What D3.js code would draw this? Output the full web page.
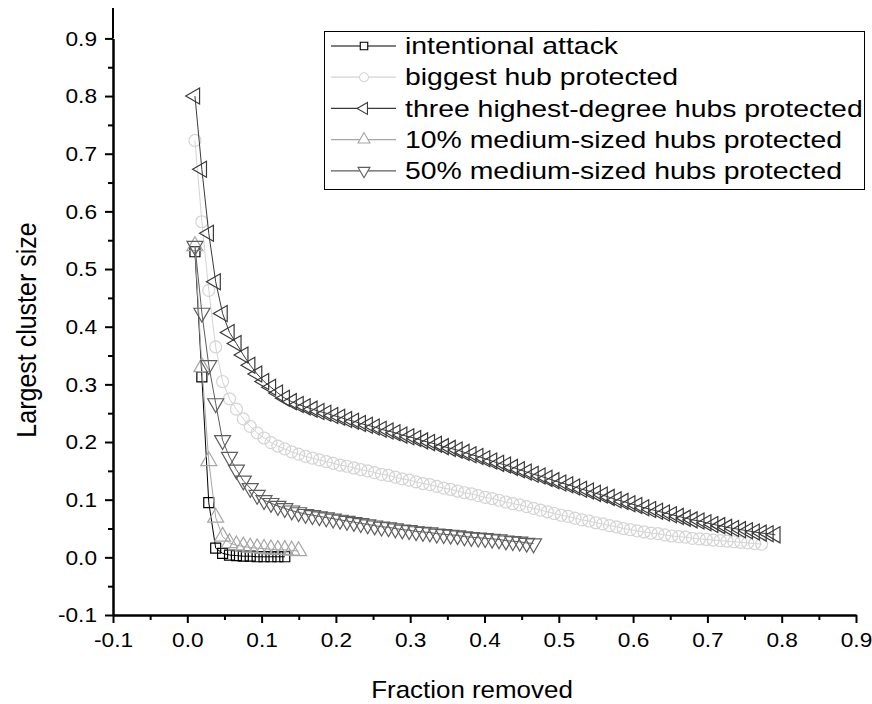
<!DOCTYPE html>
<html><head><meta charset="utf-8">
<script src="https://cdn.jsdelivr.net/npm/d3@7"></script>
<style>
body{margin:0;background:#fff}
text{font-family:"Liberation Sans",Arial,sans-serif;fill:#000}
</style>
</head><body>
<svg id="chart" width="872" height="704"></svg>
<script>
// shared x grid (fraction removed)
const fraction = [0.0103,0.0196,0.0289,0.0382,0.0475,0.0568,0.0661,0.0754,0.0847,0.0940,
0.1033,0.1126,0.1219,0.1312,0.1405,0.1498,0.1591,0.1684,0.1777,0.1870,
0.1963,0.2056,0.2149,0.2242,0.2335,0.2428,0.2521,0.2614,0.2707,0.2800,
0.2893,0.2986,0.3079,0.3172,0.3265,0.3358,0.3451,0.3544,0.3637,0.3730,
0.3823,0.3916,0.4009,0.4102,0.4195,0.4288,0.4381,0.4474,0.4567,0.4660,
0.4753,0.4846,0.4939,0.5032,0.5125,0.5218,0.5311,0.5404,0.5497,0.5590,
0.5683,0.5776,0.5869,0.5962,0.6055,0.6148,0.6241,0.6334,0.6427,0.6520,
0.6613,0.6706,0.6799,0.6892,0.6985,0.7078,0.7171,0.7264,0.7357,0.7450,
0.7543,0.7636,0.7729,0.7822,0.7915];

const intentionalAttack = [0.530,0.313,0.095,0.016,0.007,0.004,0.003,0.002,0.002,0.001,0.001,0.001,0.001,0.001];

const biggestHub = [0.723,0.582,0.463,0.365,0.305,0.275,0.257,0.240,0.227,0.216,
0.207,0.199,0.193,0.188,0.183,0.179,0.175,0.172,0.169,0.166,
0.163,0.160,0.158,0.155,0.152,0.150,0.147,0.144,0.142,0.139,
0.136,0.134,0.131,0.128,0.126,0.123,0.120,0.118,0.115,0.112,
0.110,0.107,0.104,0.102,0.099,0.096,0.093,0.091,0.088,0.085,
0.082,0.079,0.076,0.073,0.071,0.068,0.065,0.063,0.060,0.058,
0.055,0.053,0.050,0.048,0.046,0.044,0.042,0.041,0.039,0.037,
0.036,0.035,0.033,0.032,0.031,0.030,0.029,0.028,0.027,0.026,
0.025,0.024,0.023];

const threeHubs = [0.800,0.673,0.562,0.478,0.423,0.390,0.371,0.351,0.333,0.318,
0.305,0.295,0.285,0.276,0.270,0.265,0.261,0.257,0.253,0.250,
0.246,0.243,0.239,0.236,0.232,0.229,0.226,0.222,0.219,0.216,
0.212,0.209,0.206,0.202,0.199,0.196,0.192,0.189,0.186,0.182,
0.178,0.175,0.171,0.167,0.163,0.160,0.156,0.152,0.148,0.144,
0.141,0.137,0.133,0.129,0.126,0.122,0.118,0.115,0.111,0.108,
0.104,0.100,0.097,0.093,0.090,0.086,0.083,0.080,0.077,0.074,
0.071,0.068,0.065,0.063,0.060,0.057,0.055,0.052,0.050,0.048,
0.046,0.044,0.042,0.041,0.039];

const medium10 = [0.540,0.330,0.167,0.069,0.036,0.025,0.021,0.019,0.017,0.016,0.015,0.014,0.013,0.013,0.012,0.011];

const medium50 = [0.540,0.424,0.333,0.267,0.203,0.174,0.152,0.133,0.120,0.108,
0.099,0.094,0.089,0.085,0.081,0.078,0.075,0.073,0.071,0.069,
0.067,0.065,0.063,0.061,0.059,0.057,0.055,0.053,0.052,0.050,
0.048,0.047,0.045,0.044,0.043,0.041,0.040,0.039,0.038,0.036,
0.035,0.034,0.033,0.032,0.031,0.029,0.028,0.027,0.025,0.024];

const seriesNames = ["intentional attack","biggest hub protected","three highest-degree hubs protected","10% medium-sized hubs protected","50% medium-sized hubs protected"];
const xTicks = [-0.1,0,0.1,0.2,0.3,0.4,0.5,0.6,0.7,0.8,0.9];
const yTicks = [-0.1,0,0.1,0.2,0.3,0.4,0.5,0.6,0.7,0.8,0.9];
const xMinor = [-0.05,0.05,0.15,0.25,0.35,0.45,0.55,0.65,0.75,0.85];
const yMinor = [-0.05,0.05,0.15,0.25,0.35,0.45,0.55,0.65,0.75,0.85];

const seriesData = [intentionalAttack, biggestHub, threeHubs, medium10, medium50];
const seriesStyle = [
  {shape:"square", color:"#000000", line:"#000000"},
  {shape:"circle", color:"#d4d4d4", line:"#d4d4d4"},
  {shape:"left",   color:"#3a3a3a", line:"#3a3a3a"},
  {shape:"up",     color:"#a6a6a6", line:"#a6a6a6"},
  {shape:"down",   color:"#5e5e5e", line:"#5e5e5e"}
];

const svg = d3.select("#chart");
const x = d3.scaleLinear().domain([-0.1,0.9]).range([113,856]);
const y = d3.scaleLinear().domain([-0.1,0.9]).range([615,38.4]);

function shapePath(shape, k){
  k = k || 1;
  const s = 16*k, h = s*Math.sqrt(3)/2;
  if(shape==="square"){ const a=5*k; return `M${-a},${-a}h${2*a}v${2*a}h${-2*a}z`; }
  if(shape==="circle"){ const r=6*k; return `M${-r},0a${r},${r} 0 1,0 ${2*r},0a${r},${r} 0 1,0 ${-2*r},0z`; }
  if(shape==="up")   return `M0,${-2*h/3}L${s/2},${h/3}L${-s/2},${h/3}Z`;
  if(shape==="down") return `M0,${2*h/3}L${s/2},${-h/3}L${-s/2},${-h/3}Z`;
  if(shape==="left") return `M${-2*h/3},0L${h/3},${-s/2}L${h/3},${s/2}Z`;
}

// series
const line = d3.line().x(d=>x(d[0])).y(d=>y(d[1]));
seriesData.forEach((vals,si)=>{
  const pts = vals.map((v,i)=>[fraction[i], v]);
  const st = seriesStyle[si];
  const g = svg.append("g");
  g.append("path").attr("d", line(pts)).attr("fill","none").attr("stroke", st.line).attr("stroke-width",1);
  g.selectAll("path.m").data(pts).enter().append("path").attr("class","m")
    .attr("d", shapePath(st.shape))
    .attr("transform", d=>`translate(${x(d[0])},${y(d[1])})`)
    .attr("fill","none").attr("stroke", st.color).attr("stroke-width",1.2);
});

// axes
const fmt = d => d.toFixed(1);
const TICK_FS = 21, TICK_SX = 1.08;
const xAxis = svg.append("g").attr("transform","translate(0,615)")
  .call(d3.axisBottom(x).tickValues(xTicks).tickFormat(fmt).tickSize(8).tickSizeOuter(0).tickPadding(9));
const xAxisMinor = svg.append("g").attr("transform","translate(0,615)")
  .call(d3.axisBottom(x).tickValues(xMinor).tickFormat("").tickSize(5).tickSizeOuter(0));
const yAxis = svg.append("g").attr("transform","translate(113,0)")
  .call(d3.axisLeft(y).tickValues(yTicks).tickFormat(fmt).tickSize(8).tickSizeOuter(0).tickPadding(8));
const yAxisMinor = svg.append("g").attr("transform","translate(113,0)")
  .call(d3.axisLeft(y).tickValues(yMinor).tickFormat("").tickSize(5).tickSizeOuter(0));
svg.selectAll(".domain").attr("stroke","#000").attr("stroke-width",2);
svg.selectAll(".tick line").attr("stroke","#000").attr("stroke-width",2);
svg.selectAll(".tick text").attr("font-size",TICK_FS).attr("font-family",'"Liberation Sans",Arial,sans-serif').attr("fill","#000");
xAxis.selectAll(".tick text").attr("transform",`scale(${TICK_SX},1)`);
yAxis.selectAll(".tick text").attr("x",0).attr("transform",`translate(-16,0) scale(${TICK_SX},1)`);
// extend y axis line to top
svg.append("line").attr("x1",113).attr("x2",113).attr("y1",y(0.9)).attr("y2",8).attr("stroke","#000").attr("stroke-width",2);

// titles
svg.append("text").attr("transform","translate(472,698) scale(1.08,1)").attr("text-anchor","middle").attr("font-size",24).text("Fraction removed");
svg.append("text").attr("transform","translate(36,330) rotate(-90) scale(1,1.1)").attr("text-anchor","middle").attr("font-size",25).text("Largest cluster size");

// legend
const LEG_FS = 23, LEG_SX = 1.235;
const lg = svg.append("g");
lg.append("rect").attr("x",324.5).attr("y",31.5).attr("width",540).attr("height",158).attr("fill","#fff").attr("stroke","#000").attr("stroke-width",1);
seriesNames.forEach((name,i)=>{
  const cy = 46 + i*31.2;
  const st = seriesStyle[i];
  lg.append("line").attr("x1",331).attr("x2",396).attr("y1",cy).attr("y2",cy).attr("stroke",st.line).attr("stroke-width",1.2);
  lg.append("path").attr("d",shapePath(st.shape,0.75)).attr("transform",`translate(364,${cy})`)
    .attr("fill","#fff").attr("stroke",st.color).attr("stroke-width",1.1);
  lg.append("text").attr("transform",`translate(405,${cy+8.2}) scale(${LEG_SX},1)`).attr("font-size",LEG_FS).text(name);
});
</script>
</body></html>
